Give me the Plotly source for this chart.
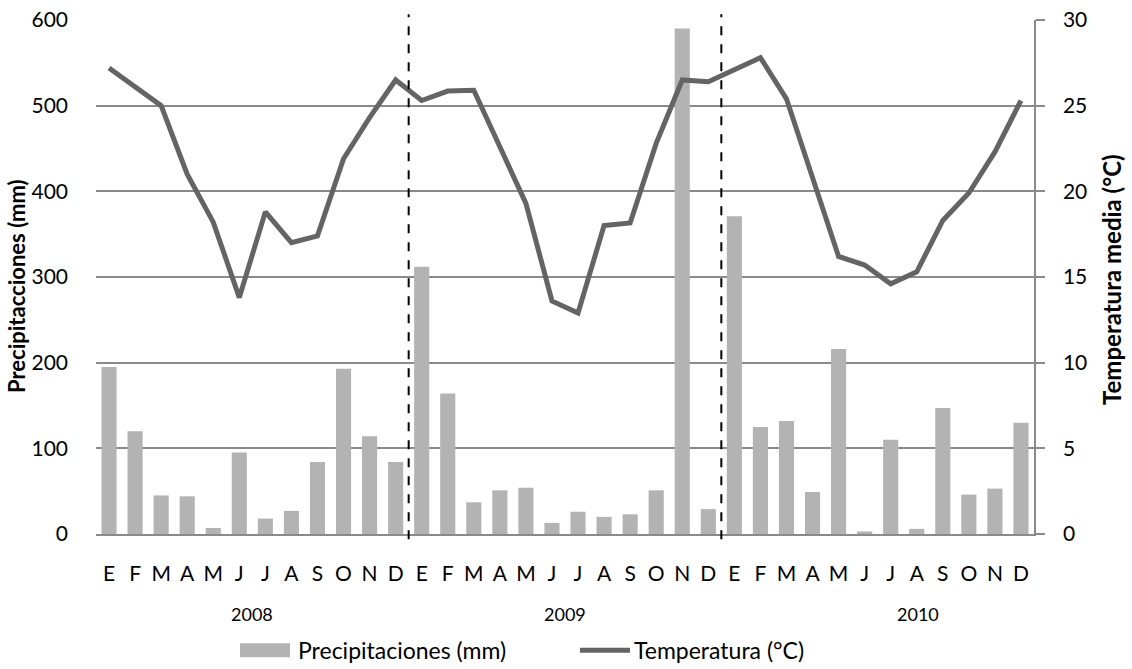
import plotly.graph_objects as go

# Monthly series, Jan 2008 - Dec 2010
years = ["2008", "2009", "2010"]
months = ["E", "F", "M", "A", "M", "J", "J", "A", "S", "O", "N", "D"]

precip_2008 = [195, 120, 45, 44, 7, 95, 18, 27, 84, 193, 114, 84]
precip_2009 = [312, 164, 37, 51, 54, 13, 26, 20, 23, 51, 590, 29]
precip_2010 = [371, 125, 132, 49, 216, 3, 110, 6, 147, 46, 53, 130]

temp_2008 = [27.2, 26.1, 25.0, 21.0, 18.2, 13.8, 18.8, 17.0, 17.4, 21.9, 24.3, 26.5]
temp_2009 = [25.3, 25.85, 25.9, 22.6, 19.3, 13.6, 12.9, 18.0, 18.15, 22.8, 26.5, 26.4]
temp_2010 = [27.1, 27.8, 25.4, 20.7, 16.2, 15.7, 14.6, 15.3, 18.3, 19.9, 22.3, 25.3]

y_ticks_left = [0, 100, 200, 300, 400, 500, 600]
y_ticks_right = [0, 5, 10, 15, 20, 25, 30]

precip = precip_2008 + precip_2009 + precip_2010
temp = temp_2008 + temp_2009 + temp_2010
month_labels = months * len(years)
xs = list(range(len(precip)))

FONT = "Lato, 'Open Sans', sans-serif"
BAR_COLOR = "#b3b3b3"
LINE_COLOR = "#646464"
GRID_COLOR = "#8a8a8a"

fig = go.Figure()
fig.add_trace(go.Bar(
    x=xs, y=precip, name="Precipitaciones (mm)",
    marker=dict(color=BAR_COLOR, line=dict(width=0)),
    width=0.58, yaxis="y", showlegend=False,
))
fig.add_trace(go.Scatter(
    x=xs, y=temp, name="Temperatura (°C)", mode="lines",
    line=dict(color=LINE_COLOR, width=5),
    yaxis="y2", showlegend=False,
))

# Plot-area geometry in pixels, used to place the hand-built legend
L, R, T, B = 96, 1034, 19.5, 534.5
W, H = R - L, B - T


def px(x):
    return (x - L) / W


def py(y):
    return (B - y) / H


shapes = []
# year separators
for sep in (11.5, 23.5):
    shapes.append(dict(type="line", xref="x", yref="paper", x0=sep, x1=sep,
                       y0=-0.01, y1=1.011,
                       line=dict(color="black", width=2, dash="dash")))
# legend swatches
shapes.append(dict(type="rect", xref="paper", yref="paper",
                   x0=px(240), x1=px(290), y0=py(658), y1=py(644),
                   fillcolor=BAR_COLOR, line=dict(width=0)))
shapes.append(dict(type="line", xref="paper", yref="paper",
                   x0=px(580), x1=px(630), y0=py(651), y1=py(651),
                   line=dict(color=LINE_COLOR, width=5)))

annotations = []
year_pos = [5.5, 17.5, 31.05]
for yr, xp in zip(years, year_pos):
    annotations.append(dict(x=xp, y=py(615), xref="x", yref="paper", text=yr,
                            showarrow=False, xanchor="center", yanchor="middle",
                            font=dict(family=FONT, size=18, color="black")))
annotations.append(dict(x=px(296), y=py(651), xref="paper", yref="paper",
                        text="Precipitaciones (mm)", showarrow=False,
                        xanchor="left", yanchor="middle",
                        font=dict(family=FONT, size=23, color="black")))
annotations.append(dict(x=px(632), y=py(651), xref="paper", yref="paper",
                        text="Temperatura (°C)", showarrow=False,
                        xanchor="left", yanchor="middle",
                        font=dict(family=FONT, size=23, color="black")))
# axis titles
annotations.append(dict(x=px(17), y=py(286), xref="paper", yref="paper",
                        text="<b>Precipitacciones (mm)</b>", showarrow=False,
                        textangle=-90, xanchor="center", yanchor="middle",
                        font=dict(family=FONT, size=22, color="black")))
annotations.append(dict(x=px(1112), y=py(280), xref="paper", yref="paper",
                        text="<b>Temperatura media (°C)</b>", showarrow=False,
                        textangle=-90, xanchor="center", yanchor="middle",
                        font=dict(family=FONT, size=24, color="black")))

fig.update_layout(
    width=1132, height=669,
    margin=dict(l=L, r=1132 - R, t=T, b=669 - B, autoexpand=False),
    paper_bgcolor="white", plot_bgcolor="white",
    font=dict(family=FONT, size=21, color="black"),
    xaxis=dict(
        range=[-0.5, len(xs) - 0.5],
        tickmode="array", tickvals=xs, ticktext=month_labels,
        showgrid=False, zeroline=False,
        showline=True, linecolor=GRID_COLOR, linewidth=1.5,
        ticks="", ticklabelstandoff=20,
        tickfont=dict(family=FONT, size=21, color="black"),
    ),
    yaxis=dict(
        range=[0, 600], tickmode="array", tickvals=y_ticks_left,
        showgrid=True, gridcolor=GRID_COLOR, gridwidth=1.5,
        zeroline=False, showline=False, ticks="",
        ticklabelstandoff=27,
        tickfont=dict(family=FONT, size=21, color="black"),
    ),
    yaxis2=dict(
        range=[0, 30], tickmode="array", tickvals=y_ticks_right,
        overlaying="y", side="right",
        showgrid=False, zeroline=False,
        showline=True, linecolor=GRID_COLOR, linewidth=1.5,
        ticks="outside", ticklen=9, tickcolor=GRID_COLOR, tickwidth=1.5,
        ticklabelstandoff=14,
        tickfont=dict(family=FONT, size=21, color="black"),
    ),
    shapes=shapes, annotations=annotations,
)

fig.write_html("out.html")
